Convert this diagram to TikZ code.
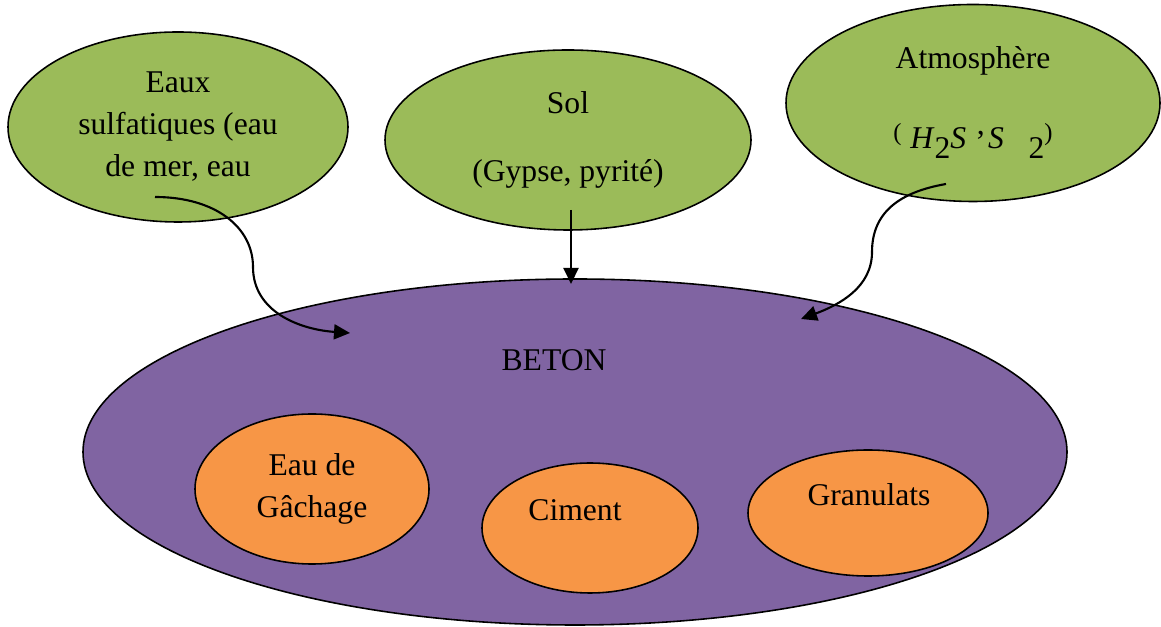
\documentclass[tikz,border=0pt]{standalone}
\usepackage{fontspec}
\setmainfont{Liberation Serif}
\usetikzlibrary{arrows.meta, positioning, shapes.geometric}
\definecolor{mgreen}{RGB}{155,187,89}
\definecolor{mpurple}{RGB}{128,100,162}
\definecolor{morange}{RGB}{247,150,70}
\newcommand{\bas}[1]{\raisebox{-5.7pt}{#1}}
\newcommand{\haut}[1]{\raisebox{5pt}{\fontsize{14}{15}\selectfont #1}}

\begin{document}
\begin{tikzpicture}[
  source/.style={ellipse,draw,line width=0.9pt,fill=mgreen,inner sep=0pt,
                 align=center,font=\fontsize{18}{23.9}\selectfont},
  compo/.style={ellipse,draw,line width=0.9pt,fill=morange,inner sep=0pt,
                align=center,font=\fontsize{18}{23.9}\selectfont},
  lbl/.style={anchor=base,inner sep=0pt,font=\fontsize{18}{23.9}\selectfont},
  arr/.style={-{Triangle[length=0.32cm,width=0.3cm]},line width=1.2pt}
]
\useasboundingbox (0,0) rectangle (23.22,12.54);
% beton et ses composants
\node[ellipse,draw,line width=0.9pt,fill=mpurple,inner sep=0pt,
      minimum width=19.68cm,minimum height=6.92cm] (beton) at (11.5,3.5) {};
\node[lbl] (betontxt) at (11.08,5.12) {BETON};
\node[compo,minimum width=4.68cm,minimum height=3.0cm] (gachage) at (6.24,2.76) {Eau de\\Gâchage};
\node[compo,minimum width=4.32cm,minimum height=2.6cm] (ciment) at (11.8,1.98) {};
\node[lbl] (cimenttxt) at (11.5,2.12) {Ciment};
\node[compo,minimum width=4.8cm,minimum height=2.52cm] (granulats) at (17.36,2.28) {};
\node[lbl] (granulatstxt) at (17.38,2.42) {Granulats};
% sources de sulfates
\node[source,minimum width=6.8cm,minimum height=3.8cm] (eaux) at (3.56,10.0)
  {Eaux\\sulfatiques (eau\\de mer, eau};
\node[source,minimum width=7.32cm,minimum height=3.6cm] (sol) at (11.36,9.74)
  {Sol\\[14.8pt](Gypse, pyrité)};
\node[source,minimum width=7.48cm,minimum height=3.94cm] (atmo) at (19.46,10.48)
  {Atmosphère\\[21.6pt]\haut{(}\hspace{5pt}\textit{H}\bas{2}\textit{S}\hspace{6pt}\raisebox{8pt}{,}\hspace{2pt}\textit{S}\hspace{14pt}\bas{2}\haut{)}};
% fleches
\coordinate (eauxsrc) at (3.1,8.6);
\coordinate (eauxdst) at (7.0,5.88);
\coordinate (solsrc) at (11.42,8.34);
\coordinate (soldst) at (11.42,6.86);
\coordinate (atmosrc) at (18.92,8.86);
\coordinate (atmodst) at (16.02,6.16);
\draw[arr] (eauxsrc) .. controls (4.3,8.6) and (5.06,8.0) .. (5.06,7.2)
  .. controls (5.06,6.3) and (6.0,5.95) .. (eauxdst);
\draw[arr] (solsrc) -- (soldst);
\draw[arr] (atmosrc) .. controls (18.0,8.7) and (17.44,8.3) .. (17.44,7.5)
  .. controls (17.44,6.8) and (16.8,6.45) .. (atmodst);
\end{tikzpicture}
\end{document}
